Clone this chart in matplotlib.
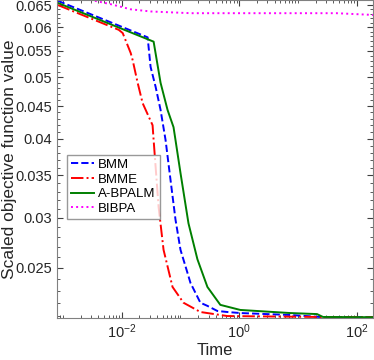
import numpy as np
import matplotlib
matplotlib.use("Agg")
import matplotlib.pyplot as plt
from matplotlib.ticker import FixedLocator, LogLocator, NullFormatter, FuncFormatter

plt.rcParams['font.family'] = ['Liberation Sans', 'DejaVu Sans']

# Дані (час, масштабоване значення цільової функції)
bmm_t = [8.2e-4, 0.0276, 0.031, 0.0377, 0.0458, 0.0557, 0.0677, 0.0822, 0.1, 0.1315,
         0.1477, 0.218, 0.287, 0.424, 0.626, 1.04, 7.32, 23.6, 190]
bmm_v = [0.0660, 0.0578, 0.0519, 0.0483, 0.0444, 0.0398, 0.0344, 0.0298, 0.0267, 0.02455,
         0.02368, 0.02203, 0.02178, 0.02138, 0.0213, 0.02122, 0.02107, 0.02092, 0.0209]

bmme_t = [8.2e-4, 8.9e-3, 0.0104, 0.01422, 0.01536, 0.01866, 0.0227, 0.0335, 0.0349,
          0.0424, 0.0515, 0.0732, 0.1124, 0.218, 0.626, 21.0, 190]
bmme_v = [0.0650, 0.0594, 0.0587, 0.0546, 0.0532, 0.0490, 0.0455, 0.0420, 0.0398,
          0.0312, 0.0267, 0.02333, 0.02203, 0.0213, 0.02099, 0.02092, 0.0209]

abpalm_t = [8.2e-4, 0.0349, 0.0458, 0.0602, 0.0761, 0.0822, 0.1, 0.1367, 0.194, 0.287,
            0.476, 1.04, 7.32, 21.0, 26.5, 190]
abpalm_v = [0.0655, 0.0569, 0.0490, 0.0444, 0.0417, 0.0398, 0.0353, 0.0294, 0.0258, 0.02333,
            0.02186, 0.02146, 0.02122, 0.02114, 0.02092, 0.0209]

bibpa_t = [8.2e-4, 3e-3, 6.5e-3, 0.0142, 0.031, 0.068, 0.15, 45.0, 190]
bibpa_v = [0.0675, 0.0662, 0.0652, 0.0640, 0.0635, 0.0633, 0.0631, 0.0631, 0.0627]

y_ticks = [0.025, 0.03, 0.035, 0.04, 0.045, 0.05, 0.055, 0.06, 0.065]

fig = plt.figure(figsize=(3.74, 3.6), dpi=100)
ax = fig.add_axes([0.153, 0.117, 0.845, 0.883])

ax.plot(bmm_t, bmm_v, '--', color='#0000ff', lw=1.4, label='BMM')
ax.plot(bmme_t, bmme_v, '-.', color='#ff0000', lw=1.4, label='BMME')
ax.plot(abpalm_t, abpalm_v, '-', color='#007f00', lw=1.4, label='A-BPALM')
ax.plot(bibpa_t, bibpa_v, ':', color='#ff00ff', lw=1.4, label='BIBPA')

ax.set_xscale('log')
ax.set_yscale('log')
ax.set_xlim(8e-4, 190)
ax.set_ylim(0.02085, 0.0662)

ax.xaxis.set_major_locator(FixedLocator([1e-2, 1e0, 1e2]))
ax.xaxis.set_minor_locator(LogLocator(base=10, subs=np.arange(1, 10), numticks=30))
ax.xaxis.set_minor_formatter(NullFormatter())

ax.yaxis.set_major_locator(FixedLocator(y_ticks))
ax.yaxis.set_major_formatter(FuncFormatter(lambda v, p: ('%g' % v)))
ax.yaxis.set_minor_locator(FixedLocator(np.arange(0.021, 0.066, 0.001)))
ax.yaxis.set_minor_formatter(NullFormatter())

ax.tick_params(which='both', direction='in', top=True, right=True, colors='#404040',
               labelcolor='#262626', labelsize=10.5)
ax.tick_params(which='major', length=4)
ax.tick_params(which='minor', length=2)
for s in ax.spines.values():
    s.set_color('#808080')
    s.set_linewidth(0.8)

ax.set_xlabel('Time', fontsize=12, color='#262626', labelpad=1)
ax.set_ylabel('Scaled objective function value', fontsize=12.5, color='#262626')
ax.yaxis.set_label_coords(-0.128, 0.5)

ax.legend(loc='upper left', bbox_to_anchor=(0.03, 0.513), fontsize=9.5, frameon=True,
          fancybox=False, edgecolor='#808080', handlelength=1.8, handletextpad=0.3,
          borderpad=0.3, labelspacing=0.18, borderaxespad=0)

fig.savefig('out.png', dpi=100)
